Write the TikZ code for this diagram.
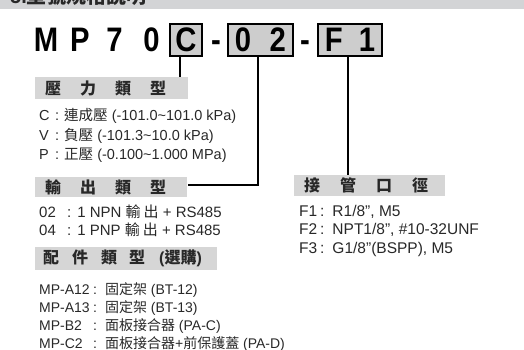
\documentclass[tikz,border=0pt]{standalone}
\usepackage{fontspec}
\setmainfont{Liberation Sans}
\newfontfamily\cjk{Noto Sans CJK TC}
\newfontfamily\titlefont[FakeStretch=0.86]{Liberation Sans}
\usetikzlibrary{positioning}
\definecolor{headgray}{RGB}{211,212,214}
\definecolor{bargray}{RGB}{214,214,214}
\definecolor{boxgray}{RGB}{205,205,205}
\definecolor{textgray}{RGB}{40,40,40}
\newcommand{\zh}[1]{{\cjk #1}}
\newcommand{\barfont}{\fontsize{16pt}{18pt}\selectfont\bfseries}
\newcommand{\bodyfont}{\fontsize{14.5pt}{17pt}\selectfont}

\begin{document}
\begin{tikzpicture}[x=1pt, y=-1pt,
    bar/.style={fill=bargray, inner ysep=0pt, anchor=north west, text=textgray, font=\barfont},
    codebox/.style={draw=black, line width=1.5pt, fill=boxgray, minimum height=32pt, inner sep=0pt, font=\titlefont\fontsize{34pt}{36pt}\selectfont\bfseries},
    bigchar/.style={anchor=base, inner sep=0pt, font=\titlefont\fontsize{34pt}{36pt}\selectfont\bfseries},
    item/.style={anchor=base west, inner sep=0pt, text=textgray, font=\bodyfont},
    link/.style={line width=1.6pt}]

        \useasboundingbox (0,0) rectangle (524,350);

        % Header strip (cut off at the top)
        \node[fill=headgray, inner sep=0pt, anchor=north west, minimum width=524pt, minimum height=9pt] (head) at (0,0) {};
        \begin{scope}
            \clip (head.north west) rectangle (head.south east);
            \node[anchor=base west, inner sep=0pt, text=textgray, font=\fontsize{20pt}{22pt}\selectfont\bfseries] (headtxt) at (10,4) {5.\zh{型號規格說明}};
        \end{scope}

        % Model code
        \node[bigchar] (tM) at (46,52) {M};
        \node[bigchar] (tP) at (80,52) {P};
        \node[bigchar] (t7) at (114.5,52) {7};
        \node[bigchar] (t0) at (151.5,52) {0};
        \node[codebox, minimum width=32pt] (boxC) at (186,40) {C};
        \node[bigchar] (dashA) at (216,52) {-};
        \node[codebox, minimum width=65pt] (box02) at (260.5,40) {0\hspace{18.5pt}2};
        \node[bigchar] (dashB) at (305,52) {-};
        \node[codebox, minimum width=64pt] (boxF) at (350,40) {F\hspace{16pt}1};

        % Grey title bars
        \node[bar, inner xsep=10pt, minimum height=22pt] (barP) at (35,77) {%
            \makebox[133pt][l]{\zh{壓}\hspace{19pt}\zh{力}\hspace{19pt}\zh{類}\hspace{19pt}\zh{型}}};
        \node[bar, inner xsep=10pt, minimum height=20pt] (barO) at (35,177) {%
            \makebox[132pt][l]{\zh{輸}\hspace{19pt}\zh{出}\hspace{19pt}\zh{類}\hspace{19pt}\zh{型}}};
        \node[bar, inner xsep=8pt, minimum height=23pt] (barA) at (35,247) {%
            \makebox[166pt][l]{\zh{配}\hspace{13pt}\zh{件}\hspace{13pt}\zh{類}\hspace{12pt}\zh{型}\hspace{14pt}(\zh{選購})}};
        \node[bar, inner xsep=10pt, minimum height=21pt] (barF) at (294,175) {%
            \makebox[131pt][l]{\zh{接}\hspace{20pt}\zh{管}\hspace{20pt}\zh{口}\hspace{20pt}\zh{徑}}};

        % Pressure type
        \node[item] (pC) at (39,121) {\makebox[16pt][l]{C}:\hspace{5pt}\zh{連成壓} (-101.0\textasciitilde101.0 kPa)};
        \node[item] (pV) at (39,140) {\makebox[16pt][l]{V}:\hspace{5pt}\zh{負壓} (-101.3\textasciitilde10.0 kPa)};
        \node[item] (pP) at (39,159) {\makebox[16pt][l]{P}:\hspace{5pt}\zh{正壓} (-0.100\textasciitilde1.000 MPa)};

        % Output type
        \node[item, font=\fontsize{15pt}{17pt}\selectfont] (o02) at (39,217) {\makebox[28pt][l]{02}:\hspace{6pt}1 NPN \zh{輸}\hspace{3pt}\zh{出} + RS485};
        \node[item, font=\fontsize{15pt}{17pt}\selectfont] (o04) at (39,235) {\makebox[28pt][l]{04}:\hspace{6pt}1 PNP \zh{輸}\hspace{3pt}\zh{出} + RS485};

        % Accessories
        \node[item, font=\fontsize{14pt}{17pt}\selectfont] (aA12) at (39,294) {\makebox[54pt][l]{MP-A12}:\hspace{8pt}\zh{固定架} (BT-12)};
        \node[item, font=\fontsize{14pt}{17pt}\selectfont] (aA13) at (39,312) {\makebox[54pt][l]{MP-A13}:\hspace{8pt}\zh{固定架} (BT-13)};
        \node[item, font=\fontsize{14pt}{17pt}\selectfont] (aB2) at (39,330) {\makebox[54pt][l]{MP-B2}:\hspace{8pt}\zh{面板接合器} (PA-C)};
        \node[item, font=\fontsize{14pt}{17pt}\selectfont] (aC2) at (39,348) {\makebox[54pt][l]{MP-C2}:\hspace{8pt}\zh{面板接合器}+\zh{前保護蓋} (PA-D)};

        % Port size
        \node[item, font=\fontsize{15.5pt}{17pt}\selectfont] (f1) at (299,216) {\makebox[21pt][l]{F1}:\hspace{8pt}R1/8", M5};
        \node[item, font=\fontsize{15.5pt}{17pt}\selectfont] (f2) at (299,234) {\makebox[21pt][l]{F2}:\hspace{8pt}NPT1/8", \#10-32UNF};
        \node[item, font=\fontsize{15.5pt}{17pt}\selectfont] (f3) at (299,253) {\makebox[21pt][l]{F3}:\hspace{8pt}G1/8”(BSPP), M5};

        % Leader lines
        \draw[link] ([xshift=-6pt]boxC.south) -- ([xshift=-6pt]boxC.south |- barP.north);
        \draw[link] ([xshift=-2.5pt]box02.south) |- ([xshift=1pt,yshift=2pt]barO.east);
        \draw[link] ([xshift=-2pt]boxF.south) -- ([xshift=-2pt]boxF.south |- barF.north);

    \end{tikzpicture}
\end{document}
